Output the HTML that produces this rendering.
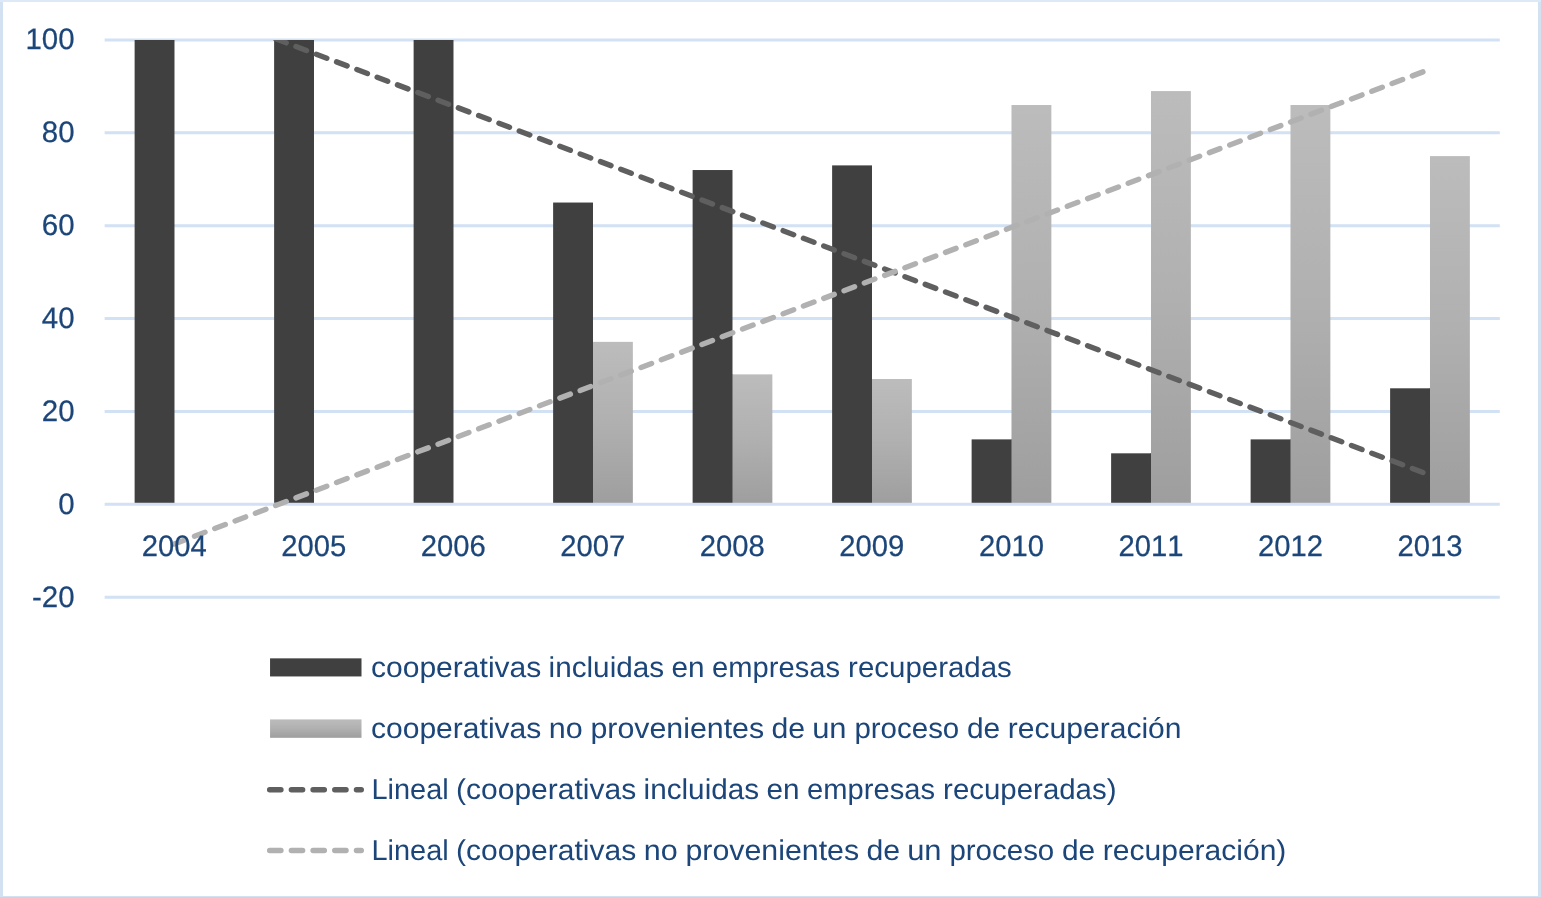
<!DOCTYPE html>
<html lang="es"><head><meta charset="utf-8"><title>Cooperativas</title>
<style>html,body{margin:0;padding:0;background:#fff;overflow:hidden}svg{display:block}text{font-family:"Liberation Sans",sans-serif;fill:#1c4679;font-kerning:none;text-rendering:geometricPrecision;stroke:#1c4679;stroke-width:0.25px;stroke-linejoin:round}text.lg{stroke-width:0.00px}</style></head><body>
<svg width="1541" height="897" viewBox="0 0 1541 897">
<defs><linearGradient id="lg" x1="0" y1="0" x2="0" y2="1"><stop offset="0" stop-color="#bcbcbc"/><stop offset="0.5" stop-color="#b0b0b0"/><stop offset="1" stop-color="#9e9e9e"/></linearGradient>
<clipPath id="cp"><rect x="0" y="40.00" width="1541" height="897"/></clipPath></defs>
<rect x="0" y="0" width="1541" height="897" fill="#fff"/>
<rect x="0" y="0" width="3" height="897" fill="#d3e2f3"/>
<rect x="1538" y="0" width="3" height="897" fill="#d3e2f3"/>
<rect x="0" y="0" width="1541" height="2" fill="#dde9f6"/>
<rect x="0" y="896" width="1541" height="1" fill="#d3e2f3"/>
<line x1="104.65" y1="597.23" x2="1499.80" y2="597.23" stroke="#d2e1f3" stroke-width="3.00"/>
<line x1="104.65" y1="411.47" x2="1499.80" y2="411.47" stroke="#d2e1f3" stroke-width="3.00"/>
<line x1="104.65" y1="318.59" x2="1499.80" y2="318.59" stroke="#d2e1f3" stroke-width="3.00"/>
<line x1="104.65" y1="225.71" x2="1499.80" y2="225.71" stroke="#d2e1f3" stroke-width="3.00"/>
<line x1="104.65" y1="132.83" x2="1499.80" y2="132.83" stroke="#d2e1f3" stroke-width="3.00"/>
<line x1="104.65" y1="39.95" x2="1499.80" y2="39.95" stroke="#d2e1f3" stroke-width="3.00"/>
<rect x="134.62" y="40.00" width="39.87" height="464.40" fill="#404040"/>
<rect x="274.12" y="40.00" width="39.87" height="464.40" fill="#404040"/>
<rect x="413.62" y="40.00" width="39.87" height="464.40" fill="#404040"/>
<rect x="553.12" y="202.54" width="39.87" height="301.86" fill="#404040"/>
<rect x="592.49" y="341.86" width="0.51" height="162.54" fill="#404040"/>
<rect x="592.99" y="341.86" width="39.87" height="162.54" fill="url(#lg)"/>
<rect x="692.62" y="170.03" width="39.87" height="334.37" fill="#404040"/>
<rect x="731.99" y="374.37" width="1.01" height="130.03" fill="#404040"/>
<rect x="732.49" y="374.37" width="39.87" height="130.03" fill="url(#lg)"/>
<rect x="832.12" y="165.39" width="39.87" height="339.01" fill="#404040"/>
<rect x="871.49" y="379.01" width="0.51" height="125.39" fill="#404040"/>
<rect x="871.99" y="379.01" width="39.87" height="125.39" fill="url(#lg)"/>
<rect x="971.62" y="439.38" width="39.87" height="65.02" fill="#404040"/>
<rect x="1010.99" y="439.38" width="1.01" height="65.02" fill="#404040"/>
<rect x="1011.49" y="105.02" width="39.87" height="399.38" fill="url(#lg)"/>
<rect x="1111.12" y="453.32" width="39.87" height="51.08" fill="#404040"/>
<rect x="1150.49" y="453.32" width="0.51" height="51.08" fill="#404040"/>
<rect x="1150.99" y="91.08" width="39.87" height="413.32" fill="url(#lg)"/>
<rect x="1250.62" y="439.38" width="39.87" height="65.02" fill="#404040"/>
<rect x="1289.99" y="439.38" width="1.01" height="65.02" fill="#404040"/>
<rect x="1290.49" y="105.02" width="39.87" height="399.38" fill="url(#lg)"/>
<rect x="1390.12" y="388.30" width="39.87" height="116.10" fill="#404040"/>
<rect x="1429.49" y="388.30" width="0.51" height="116.10" fill="#404040"/>
<rect x="1429.99" y="156.10" width="39.87" height="348.30" fill="url(#lg)"/>
<line x1="104.65" y1="504.35" x2="1499.80" y2="504.35" stroke="#d2e1f3" stroke-width="3.00"/>
<line x1="174.17" y1="0.48" x2="1430.03" y2="475.19" stroke="#5f5f5f" stroke-width="5.40" stroke-linecap="round" stroke-dasharray="11.30 10.40" stroke-dashoffset="0.00" clip-path="url(#cp)"/>
<line x1="174.17" y1="543.92" x2="1430.03" y2="69.21" stroke="#b1b1b1" stroke-width="5.40" stroke-linecap="round" stroke-dasharray="11.30 10.40" stroke-dashoffset="0.00" clip-path="url(#cp)"/>
<text transform="translate(74.55 607) scale(0.9950 1)" font-size="29.60" text-anchor="end">-20</text>
<text transform="translate(74.55 514) scale(0.9950 1)" font-size="29.60" text-anchor="end">0</text>
<text transform="translate(74.55 421) scale(0.9950 1)" font-size="29.60" text-anchor="end">20</text>
<text transform="translate(74.55 328) scale(0.9950 1)" font-size="29.60" text-anchor="end">40</text>
<text transform="translate(74.55 235) scale(0.9950 1)" font-size="29.60" text-anchor="end">60</text>
<text transform="translate(74.55 142) scale(0.9950 1)" font-size="29.60" text-anchor="end">80</text>
<text transform="translate(74.55 49) scale(0.9950 1)" font-size="29.60" text-anchor="end">100</text>
<text x="174.17" y="556.00" font-size="29.60" text-anchor="middle" textLength="65.00" lengthAdjust="spacingAndGlyphs">2004</text>
<text x="313.71" y="556.00" font-size="29.60" text-anchor="middle" textLength="65.00" lengthAdjust="spacingAndGlyphs">2005</text>
<text x="453.25" y="556.00" font-size="29.60" text-anchor="middle" textLength="65.00" lengthAdjust="spacingAndGlyphs">2006</text>
<text x="592.79" y="556.00" font-size="29.60" text-anchor="middle" textLength="65.00" lengthAdjust="spacingAndGlyphs">2007</text>
<text x="732.33" y="556.00" font-size="29.60" text-anchor="middle" textLength="65.00" lengthAdjust="spacingAndGlyphs">2008</text>
<text x="871.87" y="556.00" font-size="29.60" text-anchor="middle" textLength="65.00" lengthAdjust="spacingAndGlyphs">2009</text>
<text x="1011.41" y="556.00" font-size="29.60" text-anchor="middle" textLength="65.00" lengthAdjust="spacingAndGlyphs">2010</text>
<text x="1150.95" y="556.00" font-size="29.60" text-anchor="middle" textLength="65.00" lengthAdjust="spacingAndGlyphs">2011</text>
<text x="1290.49" y="556.00" font-size="29.60" text-anchor="middle" textLength="65.00" lengthAdjust="spacingAndGlyphs">2012</text>
<text x="1430.03" y="556.00" font-size="29.60" text-anchor="middle" textLength="65.00" lengthAdjust="spacingAndGlyphs">2013</text>
<rect x="270.05" y="658.35" width="91.45" height="18.1" fill="#404040"/>
<text class="lg" y="677.00" font-size="28.70"><tspan x="370.95" textLength="170.38" lengthAdjust="spacingAndGlyphs">cooperativas</tspan> <tspan x="548.57" textLength="115.56" lengthAdjust="spacingAndGlyphs">incluidas</tspan> <tspan x="671.59" textLength="33.07" lengthAdjust="spacingAndGlyphs">en</tspan> <tspan x="712.13" textLength="127.87" lengthAdjust="spacingAndGlyphs">empresas</tspan> <tspan x="848.12" textLength="163.73" lengthAdjust="spacingAndGlyphs">recuperadas</tspan></text>
<rect x="270.05" y="719.40" width="91.45" height="18.4" fill="url(#lg)"/>
<text class="lg" y="738.00" font-size="28.70"><tspan x="370.95" textLength="170.38" lengthAdjust="spacingAndGlyphs">cooperativas</tspan> <tspan x="548.73" textLength="33.93" lengthAdjust="spacingAndGlyphs">no</tspan> <tspan x="590.41" textLength="173.73" lengthAdjust="spacingAndGlyphs">provenientes</tspan> <tspan x="771.45" textLength="33.63" lengthAdjust="spacingAndGlyphs">de</tspan> <tspan x="812.17" textLength="34.42" lengthAdjust="spacingAndGlyphs">un</tspan> <tspan x="854.41" textLength="104.85" lengthAdjust="spacingAndGlyphs">proceso</tspan> <tspan x="967.00" textLength="33.22" lengthAdjust="spacingAndGlyphs">de</tspan> <tspan x="1007.80" textLength="173.74" lengthAdjust="spacingAndGlyphs">recuperación</tspan></text>
<line x1="269.65" y1="789.70" x2="361.3" y2="789.70" stroke="#5f5f5f" stroke-width="5.40" stroke-linecap="round" stroke-dasharray="11.30 10.40"/>
<text class="lg" y="799.00" font-size="28.70"><tspan x="371.45" textLength="77.22" lengthAdjust="spacingAndGlyphs">Lineal</tspan> <tspan x="456.04" textLength="180.11" lengthAdjust="spacingAndGlyphs">(cooperativas</tspan> <tspan x="643.57" textLength="115.56" lengthAdjust="spacingAndGlyphs">incluidas</tspan> <tspan x="766.59" textLength="33.07" lengthAdjust="spacingAndGlyphs">en</tspan> <tspan x="807.13" textLength="127.87" lengthAdjust="spacingAndGlyphs">empresas</tspan> <tspan x="943.12" textLength="173.39" lengthAdjust="spacingAndGlyphs">recuperadas)</tspan></text>
<line x1="269.65" y1="850.50" x2="361.3" y2="850.50" stroke="#b1b1b1" stroke-width="5.40" stroke-linecap="round" stroke-dasharray="11.30 10.40"/>
<text class="lg" y="860.00" font-size="28.70"><tspan x="371.45" textLength="77.22" lengthAdjust="spacingAndGlyphs">Lineal</tspan> <tspan x="456.04" textLength="180.11" lengthAdjust="spacingAndGlyphs">(cooperativas</tspan> <tspan x="643.73" textLength="33.93" lengthAdjust="spacingAndGlyphs">no</tspan> <tspan x="685.41" textLength="173.73" lengthAdjust="spacingAndGlyphs">provenientes</tspan> <tspan x="866.45" textLength="33.63" lengthAdjust="spacingAndGlyphs">de</tspan> <tspan x="907.17" textLength="34.42" lengthAdjust="spacingAndGlyphs">un</tspan> <tspan x="949.41" textLength="104.85" lengthAdjust="spacingAndGlyphs">proceso</tspan> <tspan x="1062.00" textLength="33.22" lengthAdjust="spacingAndGlyphs">de</tspan> <tspan x="1102.80" textLength="183.58" lengthAdjust="spacingAndGlyphs">recuperación)</tspan></text>
</svg></body></html>
